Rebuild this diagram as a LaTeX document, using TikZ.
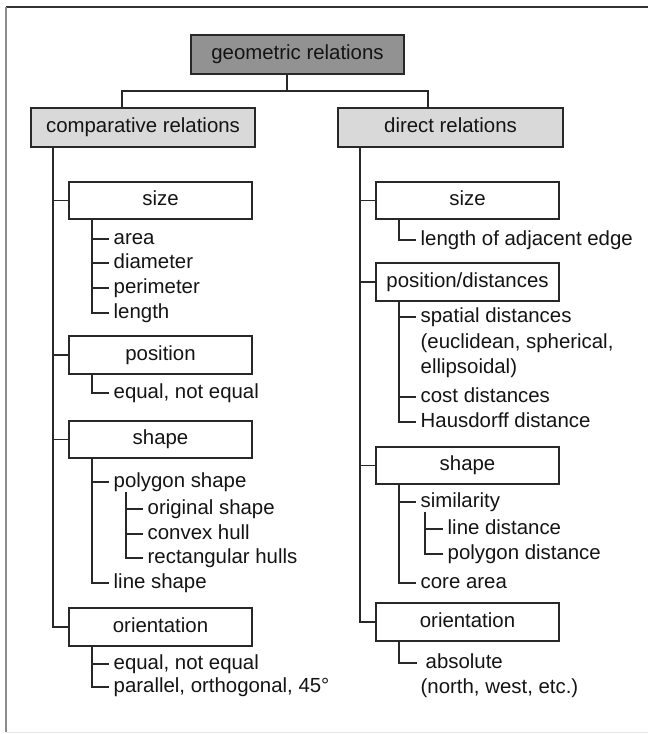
\documentclass[tikz,border=0pt]{standalone}
\usepackage{fontspec}
\setmainfont{Liberation Sans}
\definecolor{linec}{RGB}{40,40,40}
\definecolor{topfill}{RGB}{146,146,146}
\definecolor{groupfill}{RGB}{217,217,217}
\begin{document}
\begin{tikzpicture}[x=1bp,y=-1bp,
  every node/.style={font=\fontsize{20.4bp}{25.5bp}\selectfont,
    text=black!92, text height=15bp, text depth=4.2bp},
  boxbase/.style={draw=linec, line width=1.8bp, inner sep=0pt},
  topbox/.style={boxbase, fill=topfill, minimum width=213bp, minimum height=38.5bp},
  groupbox/.style={boxbase, fill=groupfill, minimum width=224bp, minimum height=38.5bp},
  catbox/.style={boxbase, fill=white, minimum width=183bp, minimum height=37.5bp},
  item/.style={anchor=west, inner xsep=4.5bp, inner ysep=0pt},
  link/.style={draw=linec, line width=1.8bp}]
\useasboundingbox (0,0) rectangle (648,734);

% page frame
\draw[line width=2bp, draw=black!80] (6,7) -- (648,7);
\draw[line width=2bp, draw=black!45] (6,7) -- (6,732);
\draw[line width=0.8bp, draw=black!10] (6,732) -- (648,732);

% top levels
\node[topbox] (geo) at (297.5,54.5) {geometric relations};
\node[groupbox] (comp) at (143,127.5) {comparative relations};
\node[groupbox, minimum width=225bp] (direct) at (450.5,127.5) {direct relations};

\coordinate (gj) at (287,91);
\coordinate (cl) at (122,91);
\coordinate (cr) at (428,91);
\draw[link] (geo.south -| gj) -- (gj);
\draw[link] (comp.north -| cl) -- (cl) -- (cr) -- (direct.north -| cr);

% ---------------- comparative relations ----------------
\node[catbox] (sizeL)   at (160.5,200.5) {size};
\node[catbox] (posL)    at (160.5,355)   {position};
\node[catbox] (shapeL)  at (160.5,439.5) {shape};
\node[catbox] (orientL) at (160.5,627)   {orientation};

\coordinate (tL) at (53,0);
\draw[link] (comp.south -| tL) |- (orientL.west);
\foreach \n in {sizeL,posL,shapeL} \draw[link] (\n.west -| tL) -- (\n.west);

\coordinate (sL) at (92,0);
\coordinate (pL) at (126,0);

\node[item] (area)  at (109,239) {area};
\node[item] (diam)  at (109,263) {diameter};
\node[item] (perim) at (109,288) {perimeter};
\node[item] (lenL)  at (109,313) {length};
\draw[link] (sizeL.south -| sL) |- (lenL.west);
\foreach \n in {area,diam,perim} \draw[link] (\n.west -| sL) -- (\n.west);

\node[item] (eqL) at (109,393) {equal, not equal};
\draw[link] (posL.south -| sL) |- (eqL.west);

\node[item] (poly)  at (109,482) {polygon shape};
\node[item] (orig)  at (143,509) {original shape};
\node[item] (hull)  at (143,534) {convex hull};
\node[item] (rect)  at (143,558) {rectangular hulls};
\node[item] (lineL) at (109,583) {line shape};
\draw[link] (shapeL.south -| sL) |- (lineL.west);
\draw[link] (poly.west -| sL) -- (poly.west);
\draw[link] (poly.south -| pL) |- (rect.west);
\foreach \n in {orig,hull} \draw[link] (\n.west -| pL) -- (\n.west);

\node[item] (eqO)  at (109,664) {equal, not equal};
\node[item] (par)  at (109,687) {parallel, orthogonal, 45°};
\draw[link] (orientL.south -| sL) |- (par.west);
\draw[link] (eqO.west -| sL) -- (eqO.west);

% ---------------- direct relations ----------------
\node[catbox] (sizeR)   at (467.5,200.5) {size};
\node[catbox] (posR)    at (467.5,282)   {position/distances};
\node[catbox] (shapeR)  at (467.5,465.5) {shape};
\node[catbox] (orientR) at (467.5,622)   {orientation};

\coordinate (tR) at (360,0);
\draw[link] (direct.south -| tR) |- (orientR.west);
\foreach \n in {sizeR,posR,shapeR} \draw[link] (\n.west -| tR) -- (\n.west);

\coordinate (sR) at (399,0);
\coordinate (qR) at (425,0);

\node[item] (adj) at (416,240) {length of adjacent edge};
\draw[link] (sizeR.south -| sR) |- (adj.west);

\node[item] (spat)  at (416,317) {spatial distances};
\node[item] (spatb) at (416,343) {(euclidean, spherical,};
\node[item] (spatc) at (416,368) {ellipsoidal)};
\node[item] (cost)  at (416,397) {cost distances};
\node[item] (haus)  at (416,422) {Hausdorff distance};
\draw[link] (posR.south -| sR) |- (haus.west);
\foreach \n in {spat,cost} \draw[link] (\n.west -| sR) -- (\n.west);

\node[item] (simi)  at (416,502) {similarity};
\node[item] (ldist) at (443,529) {line distance};
\node[item] (pdist) at (443,554) {polygon distance};
\node[item] (core)  at (416,583) {core area};
\draw[link] (shapeR.south -| sR) |- (core.west);
\draw[link] (simi.west -| sR) -- (simi.west);
\draw[link] (simi.south -| qR) |- (pdist.west);
\draw[link] (ldist.west -| qR) -- (ldist.west);

\node[item, inner xsep=8.5bp] (abs) at (417,663) {absolute};
\node[item] (absb) at (416,688) {(north, west, etc.)};
\draw[link] (orientR.south -| sR) |- (abs.west);
\end{tikzpicture}
\end{document}
